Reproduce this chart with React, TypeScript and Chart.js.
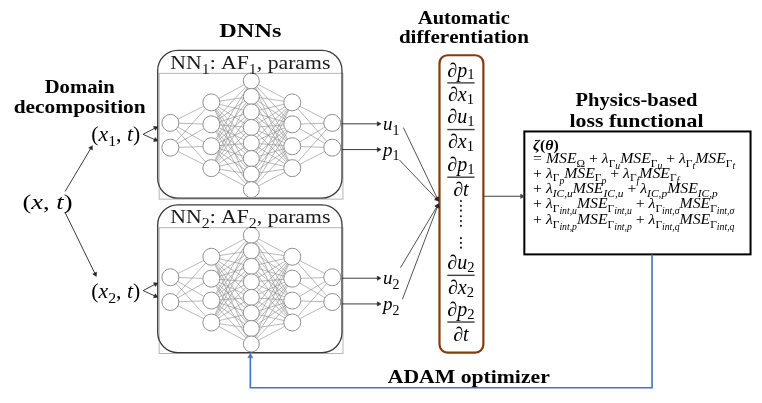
import React, { useEffect, useRef } from 'react';
import { Chart, registerables } from 'chart.js';

Chart.register(...registerables);

// ---------------- data ----------------
const layerSizes = [2, 4, 8, 4, 2];
const layerX = [165, 207, 248, 290, 331];
const layerGap = [26, 23, 16.3, 23, 26];
const netCenterY = [132, 294];
const netTitles = ['NN_1: AF_1, params', 'NN_2: AF_2, params'];
const outputLabels = [['u_1', 'p_1'], ['u_2', 'p_2']];
const outputOffsets = [-12, 15];
const inputLabels = ['(x_1, t)', '(x_2, t)'];
const inputLabelY = [131, 295];
const rootLabel = '(x, t)';
const fractionNums = ['∂p_1', '∂u_1', '∂p_1', '∂u_2', '∂p_2'];
const fractionDens = ['∂x_1', '∂x_1', '∂t', '∂x_2', '∂t'];
const fractionBarY = [77, 126, 176, 279, 328];
const ellipsisY = [201, 206, 211, 217, 222, 227, 240, 245, 250];
const lossTitle = 'ζ(θ)';
const lossTerms = [
  '= MSE_Ω + λ_{Γ_u}MSE_{Γ_u} + λ_{Γ_t}MSE_{Γ_t}',
  '+ λ_{Γ_p}MSE_{Γ_p} + λ_{Γ_f}MSE_{Γ_f}',
  '+ λ_{IC,u}MSE_{IC,u} + λ_{IC,p}MSE_{IC,p}',
  '+ λ_{Γ_{int,u}}MSE_{Γ_{int,u}} + λ_{Γ_{int,σ}}MSE_{Γ_{int,σ}}',
  '+ λ_{Γ_{int,p}}MSE_{Γ_{int,p}} + λ_{Γ_{int,q}}MSE_{Γ_{int,q}}',
];
const headingTexts = ['DNNs', 'Automatic', 'differentiation', 'Domain', 'decomposition', 'Physics-based', 'loss functional', 'ADAM optimizer'];

// ---------------- layout ----------------
const headingX = [247, 466, 466, 72, 72, 643, 643, 471];
const headingY = [22, 9, 29, 81, 102, 95, 117, 385];
const headingW = [62, 92, 130, 70, 132, 122, 134, 162];
const lossLineY = [142, 156, 171, 187, 203, 220];

const W = 762;
const H = 403;
const SERIF = '"Liberation Serif", "DejaVu Serif", serif';
const SUB = [1, 0.73, 0.62];
const DROP = [0, 0.24, 0.4];

type Run = { ch: string; lvl: number };

function parseRich(s: string): Run[] {
  const out: Run[] = [];
  const rec = (i: number, lvl: number, inGroup: boolean): number => {
    while (i < s.length) {
      const c = s[i];
      if (c === '}' && inGroup) return i + 1;
      if (c === '_') {
        if (s[i + 1] === '{') {
          i = rec(i + 2, lvl + 1, true);
        } else {
          out.push({ ch: s[i + 1], lvl: lvl + 1 });
          i += 2;
        }
        continue;
      }
      out.push({ ch: c, lvl });
      i++;
    }
    return i;
  };
  rec(0, 0, false);
  return out;
}

type TOpts = { size: number; math?: boolean; bold?: boolean; align?: 'left' | 'center'; width?: number; sx?: number; color?: string; drop?: number };

function fontFor(ch: string, lvl: number, o: TOpts) {
  const it = o.math && /[A-Za-zα-ωζθλσ∂]/.test(ch);
  const sz = o.size * SUB[Math.min(lvl, 2)];
  return `${it ? 'italic ' : ''}${o.bold ? 'bold ' : ''}${sz}px ${SERIF}`;
}

function measureRich(ctx: CanvasRenderingContext2D, runs: Run[], o: TOpts) {
  let w = 0;
  for (const r of runs) {
    ctx.font = fontFor(r.ch, r.lvl, o);
    w += ctx.measureText(r.ch).width;
  }
  return w;
}

function drawRich(ctx: CanvasRenderingContext2D, s: string, x: number, y: number, o: TOpts) {
  const runs = parseRich(s);
  const w = measureRich(ctx, runs, o);
  const sx = o.width ? o.width / w : o.sx ?? 1;
  const total = w * sx;
  const x0 = o.align === 'left' ? x : x - total / 2;
  const dropScale = o.drop ?? 1;
  ctx.save();
  ctx.translate(x0, y + 0.33 * o.size);
  ctx.scale(sx, 1);
  ctx.fillStyle = o.color || '#000';
  ctx.textBaseline = 'alphabetic';
  ctx.textAlign = 'left';
  let cx = 0;
  for (const r of runs) {
    ctx.font = fontFor(r.ch, r.lvl, o);
    ctx.fillText(r.ch, cx, DROP[Math.min(r.lvl, 2)] * o.size * dropScale);
    cx += ctx.measureText(r.ch).width;
  }
  ctx.restore();
  return sx;
}

// ---------------- geometry helpers ----------------
type P = { x: number; y: number };
const GAP: P = { x: NaN, y: NaN };

function netNodes(cy: number): P[][] {
  return layerSizes.map((n, li) =>
    Array.from({ length: n }, (_, k) => ({ x: layerX[li], y: cy + (k - (n - 1) / 2) * layerGap[li] }))
  );
}

function netEdges(cy: number): P[] {
  const nodes = netNodes(cy);
  const out: P[] = [];
  for (let li = 0; li < nodes.length - 1; li++) {
    for (const a of nodes[li]) {
      for (const b of nodes[li + 1]) {
        out.push(a, b, GAP);
      }
    }
  }
  return out;
}

function arrow(points: P[], color: string, width: number, head = 3): any {
  const n = points.length;
  const a = points[n - 2];
  const b = points[n - 1];
  const dx = b.x - a.x;
  const dy = b.y - a.y;
  const len = Math.hypot(dx, dy);
  const rot = (Math.atan2(dx, -dy) * 180) / Math.PI;
  const data = [...points.slice(0, n - 1), { x: b.x - (dx / len) * head, y: b.y - (dy / len) * head }];
  return {
    type: 'scatter',
    data,
    showLine: true,
    borderColor: color,
    borderWidth: width,
    pointStyle: 'triangle',
    pointRadius: data.map((_, i) => (i === n - 1 ? head : 0)),
    pointRotation: data.map((_, i) => (i === n - 1 ? rot : 0)),
    pointBackgroundColor: color,
    pointBorderColor: color,
    pointBorderWidth: 0.5,
    clip: false,
    order: 1,
  };
}

function buildDatasets() {
  const ds: any[] = [];
  const bigNodes: P[] = [];
  const midNodes: P[] = [];
  netCenterY.forEach((cy) => {
    netNodes(cy).forEach((layer, li) => (li === 2 ? midNodes : bigNodes).push(...layer));
  });
  ds.push({
    data: bigNodes,
    pointRadius: 8.5,
    pointBackgroundColor: '#ffffff',
    pointBorderColor: '#8f8f8f',
    pointBorderWidth: 1,
    showLine: false,
    order: 0,
  });
  ds.push({
    data: midNodes,
    pointRadius: 8,
    pointBackgroundColor: '#ffffff',
    pointBorderColor: '#8f8f8f',
    pointBorderWidth: 1,
    showLine: false,
    order: 0,
  });
  netCenterY.forEach((cy) => {
    ds.push({
      data: netEdges(cy),
      showLine: true,
      borderColor: '#8a8a8a',
      borderWidth: 0.6,
      pointRadius: 0,
      spanGaps: false,
      order: 3,
    });
  });
  const dark = '#262626';
  // root splits
  ds.push(arrow([{ x: 57, y: 191 }, { x: 85, y: 143 }], dark, 0.9, 2.5));
  ds.push(arrow([{ x: 57, y: 213 }, { x: 89, y: 280 }], dark, 0.9, 2.5));
  // inputs into each net
  inputLabelY.forEach((ly) => {
    ds.push(arrow([{ x: 137, y: ly }, { x: 152, y: ly - 8 }], dark, 0.9, 2.5));
    ds.push(arrow([{ x: 137, y: ly }, { x: 152, y: ly + 7 }], dark, 0.9, 2.5));
  });
  // outputs of each net
  netCenterY.forEach((cy) => {
    outputOffsets.forEach((off) => {
      ds.push(arrow([{ x: 341, y: cy + off }, { x: 381, y: cy + off }], dark, 0.9, 2.5));
    });
  });
  // converging into automatic differentiation
  ds.push(arrow([{ x: 404, y: 124 }, { x: 440, y: 201 }], dark, 0.8, 2.5));
  ds.push(arrow([{ x: 400, y: 158 }, { x: 440, y: 201 }], dark, 0.8, 2.5));
  ds.push(arrow([{ x: 401, y: 271 }, { x: 440, y: 204 }], dark, 0.8, 2.5));
  ds.push(arrow([{ x: 403, y: 304 }, { x: 440, y: 204 }], dark, 0.8, 2.5));
  // to loss
  ds.push(arrow([{ x: 486, y: 196 }, { x: 528, y: 196 }], '#404040', 1, 2.5));
  // ADAM feedback loop
  ds.push(arrow([{ x: 659, y: 257 }, { x: 659, y: 397 }, { x: 247, y: 397 }, { x: 247, y: 361 }], '#4472C4', 1.6, 3));
  // ellipsis dots
  ds.push({
    data: ellipsisY.map((y) => ({ x: 463, y })),
    pointRadius: 1.1,
    pointBackgroundColor: '#222',
    pointBorderWidth: 0,
    showLine: false,
    order: 0,
  });
  return ds;
}

const diagramPlugin = {
  id: 'diagram',
  beforeDatasetsDraw(chart: any) {
    const ctx: CanvasRenderingContext2D = chart.ctx;
    const X = (v: number) => chart.scales.x.getPixelForValue(v);
    const Y = (v: number) => chart.scales.y.getPixelForValue(v);
    ctx.save();
    netCenterY.forEach((cy) => {
      const top = cy - 89;
      const mid = cy - 65;
      const bot = cy + 66;
      ctx.strokeStyle = '#b5b5b5';
      ctx.lineWidth = 1;
      ctx.strokeRect(X(153.5), Y(mid), X(342) - X(153.5), Y(bot + 1) - Y(mid));
      ctx.strokeStyle = '#3a3a3a';
      ctx.lineWidth = 1.3;
      ctx.beginPath();
      (ctx as any).roundRect(X(152), Y(top), X(341) - X(152), Y(bot) - Y(top), 20);
      ctx.stroke();
    });
    // automatic differentiation column
    ctx.strokeStyle = '#843C0C';
    ctx.lineWidth = 2.2;
    ctx.beginPath();
    (ctx as any).roundRect(X(441), Y(48), X(486) - X(441), Y(360) - Y(48), 8);
    ctx.stroke();
    // loss box
    ctx.strokeStyle = '#000';
    ctx.lineWidth = 2;
    ctx.strokeRect(X(528), Y(128), X(760) - X(528), Y(257) - Y(128));
    ctx.restore();
  },
  afterDatasetsDraw(chart: any) {
    const ctx: CanvasRenderingContext2D = chart.ctx;
    const X = (v: number) => chart.scales.x.getPixelForValue(v);
    const Y = (v: number) => chart.scales.y.getPixelForValue(v);
    ctx.save();
    headingTexts.forEach((t, i) => {
      drawRich(ctx, t, X(headingX[i]), Y(headingY[i]), { size: 19, bold: true, width: headingW[i] });
    });
    netCenterY.forEach((cy, i) => {
      drawRich(ctx, netTitles[i], X(247), Y(cy - 76), { size: 19, width: 160, color: '#1a1a1a' });
      outputLabels[i].forEach((lab, j) => {
        drawRich(ctx, lab, X(383), Y(cy + outputOffsets[j]), { size: 19, math: true, align: 'left' });
      });
      drawRich(ctx, inputLabels[i], X(109), Y(inputLabelY[i]), { size: 21, math: true, width: 49 });
    });
    drawRich(ctx, rootLabel, X(39), Y(202), { size: 21, math: true, width: 50 });
    // fractions
    fractionBarY.forEach((by, i) => {
      drawRich(ctx, fractionNums[i], X(463), Y(by - 13.5), { size: 20, math: true, drop: 0.6 });
      drawRich(ctx, fractionDens[i], X(463), Y(by + 12.5), { size: 20, math: true, drop: 0.6 });
      ctx.strokeStyle = '#404040';
      ctx.lineWidth = 1.4;
      ctx.beginPath();
      ctx.moveTo(X(449), Y(by));
      ctx.lineTo(X(477), Y(by));
      ctx.stroke();
    });
    // loss functional
    const lossSize = 15.5;
    const runs = parseRich(lossTerms[0]);
    const w1 = measureRich(ctx, runs, { size: lossSize, math: true });
    const sx = 202 / w1;
    drawRich(ctx, lossTitle, X(537), Y(lossLineY[0]), { size: lossSize, math: true, bold: true, align: 'left', sx });
    lossTerms.forEach((t, i) => {
      drawRich(ctx, t, X(537), Y(lossLineY[i + 1]), { size: lossSize, math: true, align: 'left', sx });
    });
    ctx.restore();
  },
};

export default function App() {
  const ref = useRef<HTMLCanvasElement | null>(null);
  useEffect(() => {
    if (!ref.current) return;
    const chart = new Chart(ref.current, {
      type: 'scatter',
      data: { datasets: buildDatasets() },
      options: {
        responsive: false,
        animation: false,
        devicePixelRatio: 1,
        events: [],
        layout: { padding: 0 },
        plugins: { legend: { display: false }, tooltip: { enabled: false } },
        scales: {
          x: { type: 'linear', min: 0, max: W, display: false },
          y: { type: 'linear', min: 0, max: H, reverse: true, display: false },
        },
      } as any,
      plugins: [diagramPlugin],
    } as any);
    return () => chart.destroy();
  }, []);
  return (
    <div style={{ position: 'fixed', left: 0, top: 0, width: W, height: H, background: '#fff' }}>
      <canvas ref={ref} width={W} height={H} style={{ display: 'block' }} />
    </div>
  );
}
